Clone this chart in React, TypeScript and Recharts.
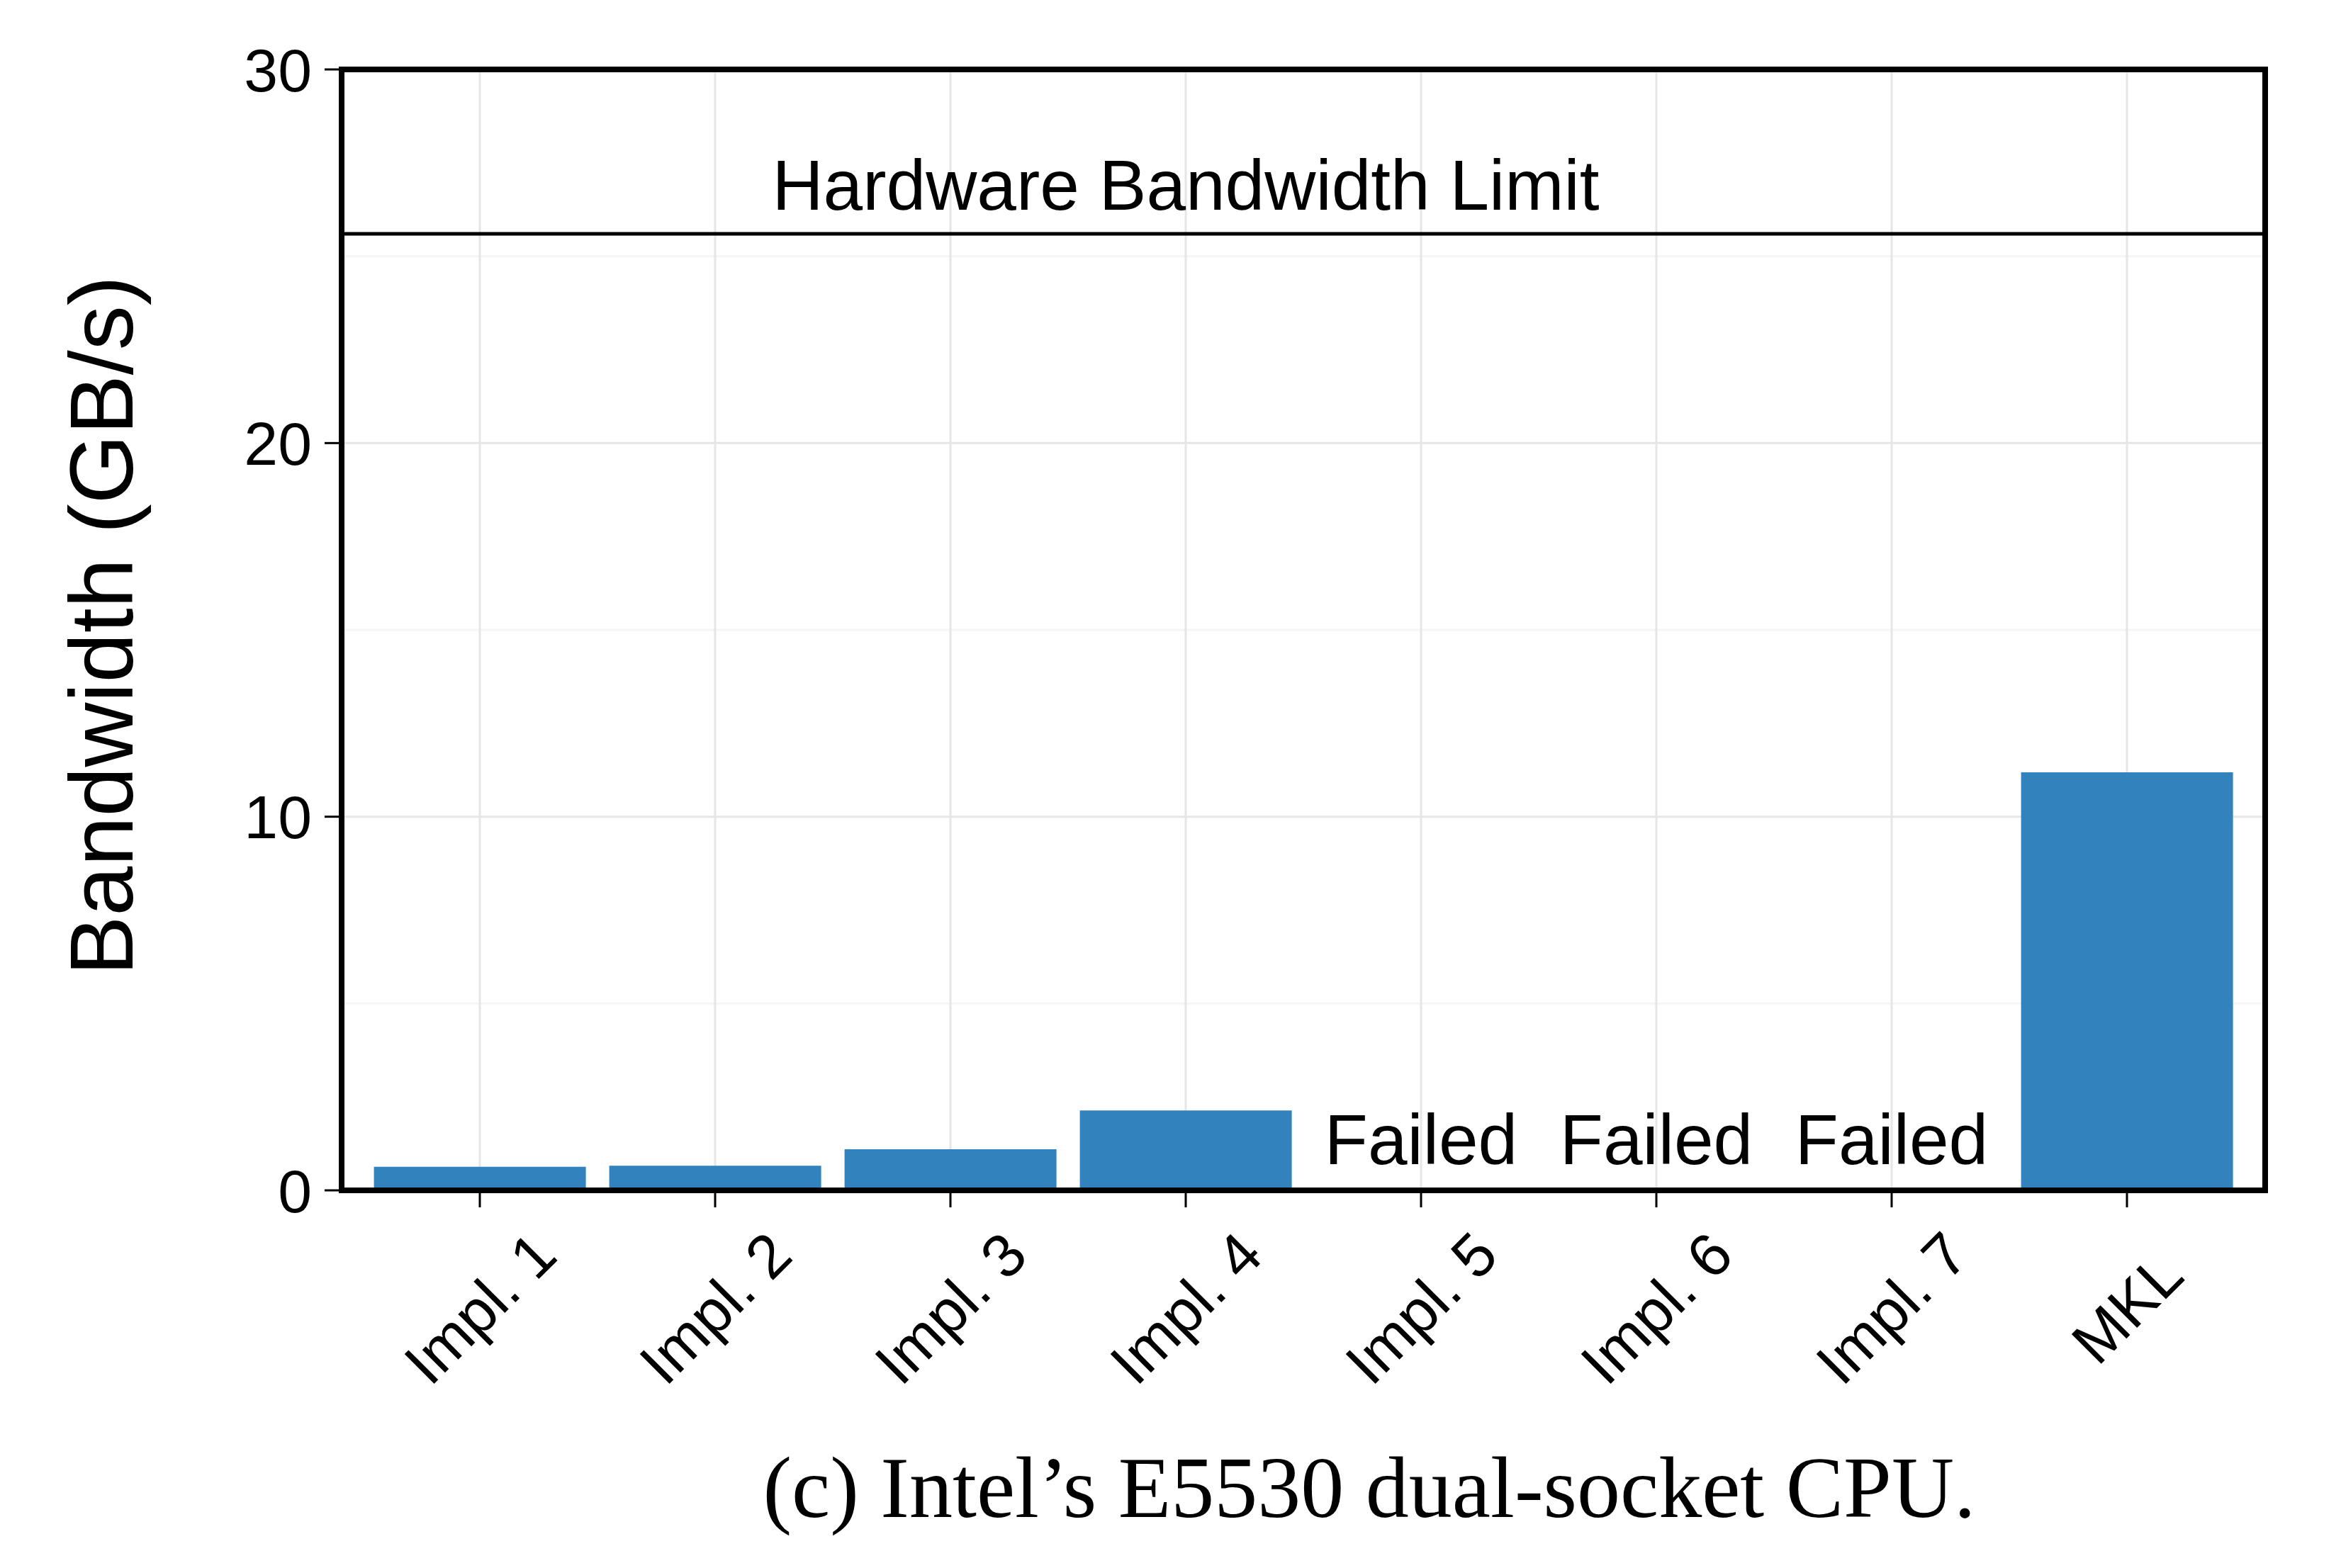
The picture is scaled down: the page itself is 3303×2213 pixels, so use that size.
import React from 'react';
import { BarChart, Bar, XAxis, YAxis, CartesianGrid, ReferenceLine, ReferenceDot } from 'recharts';

// measured bandwidth per implementation, null where the run failed
const implementations = ['Impl. 1', 'Impl. 2', 'Impl. 3', 'Impl. 4', 'Impl. 5', 'Impl. 6', 'Impl. 7', 'MKL'];
const bandwidth = [0.63, 0.66, 1.1, 2.14, null, null, null, 11.19];
const yTicks = [0, 10, 20, 30];
const minorTicks = [5, 15, 25];
const hardwareLimit = 25.6;
const limitAnchor = 'Impl. 4';
const limitText = 'Hardware Bandwidth Limit';
const failedText = 'Failed';
const yTitle = 'Bandwidth (GB/s)';
const caption = '(c) Intel\u2019s E5530 dual-socket CPU.';

const data = implementations.map((name, i) => ({ name, value: bandwidth[i] }));

const SANS = '"Liberation Sans", Arial, Helvetica, sans-serif';
const SERIF = '"Liberation Serif", "Times New Roman", serif';
const frameLine = { stroke: '#000', strokeWidth: 8, strokeLinecap: 'square' as const };

const SlantTick = ({ x, y, payload }: any) => (
  <text
    transform={`translate(${x},${y + 142}) rotate(-45)`}
    textAnchor="middle"
    dominantBaseline="central"
    fontSize={86}
    fontFamily={SANS}
    fill="#000"
  >
    {payload.value}
  </text>
);

const YTitle = ({ viewBox }: any) => (
  <text
    transform={`translate(${viewBox.x - 95},${viewBox.y + viewBox.height / 2 - 6}) rotate(-90)`}
    textAnchor="middle"
    fontSize={126}
    fontFamily={SANS}
    fill="#000"
  >
    {yTitle}
  </text>
);

const Caption = ({ viewBox }: any) => (
  <text
    x={viewBox.x + viewBox.width / 2 + 93}
    y={viewBox.y + 461}
    textAnchor="middle"
    fontSize={122}
    fontFamily={SERIF}
    fill="#000"
  >
    {caption}
  </text>
);

export default function App() {
  return (
    <div style={{ position: 'absolute', left: 0, top: 0, width: 3303, height: 2213, background: '#fff' }}>
      <BarChart
        width={3303}
        height={2213}
        data={data}
        margin={{ top: 97, right: 106, bottom: 233, left: 282 }}
        barCategoryGap="5%"
      >
        {/* faint minor lines first, major grid drawn over them */}
        <CartesianGrid stroke="#f5f5f5" strokeWidth={3} vertical={false} horizontalValues={minorTicks} />
        <CartesianGrid stroke="#e6e6e6" strokeWidth={3} />

        <XAxis
          dataKey="name"
          height={300}
          padding={{ left: 29, right: 29 }}
          tickSize={24}
          tickMargin={0}
          tickLine={{ stroke: '#000', strokeWidth: 3 }}
          axisLine={frameLine}
          tick={<SlantTick />}
          interval={0}
          label={<Caption />}
        />
        <XAxis xAxisId="top" dataKey="name" orientation="top" height={1} tick={false} tickLine={false} axisLine={frameLine} />
        <YAxis
          type="number"
          domain={[0, 30]}
          ticks={yTicks}
          width={200}
          tickSize={24}
          tickMargin={18}
          tickLine={{ stroke: '#000', strokeWidth: 3 }}
          axisLine={frameLine}
          tick={{ fontSize: 86, fill: '#000', fontFamily: SANS }}
          label={<YTitle />}
        />
        <YAxis yAxisId="right" orientation="right" type="number" domain={[0, 30]} width={1} tick={false} tickLine={false} axisLine={frameLine} />

        <Bar dataKey="value" fill="#3282bd" isAnimationActive={false} />

        <ReferenceLine y={hardwareLimit} stroke="#000" strokeWidth={5} />
        <ReferenceDot
          x={limitAnchor}
          y={hardwareLimit}
          r={0}
          fill="none"
          stroke="none"
          label={{ value: limitText, position: 'top', offset: 34, fontSize: 100, fill: '#000', fontFamily: SANS }}
        />
        {data
          .filter((d) => d.value === null)
          .map((d) => (
            <ReferenceDot
              key={d.name}
              x={d.name}
              y={0}
              r={0}
              fill="none"
              stroke="none"
              label={{ value: failedText, position: 'top', offset: 37, fontSize: 100, fill: '#000', fontFamily: SANS }}
            />
          ))}
      </BarChart>
    </div>
  );
}
